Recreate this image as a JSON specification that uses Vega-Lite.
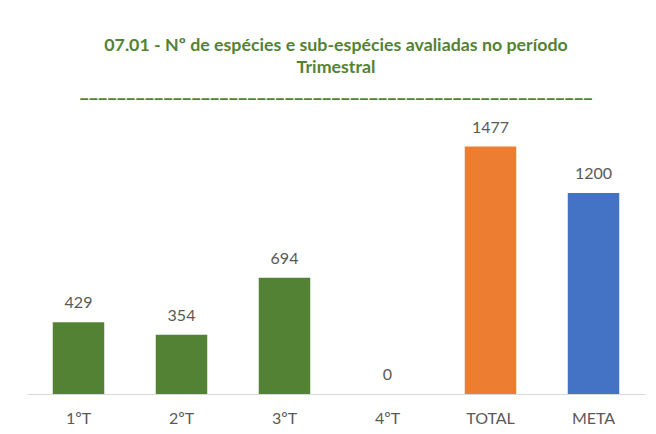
{
  "$schema": "https://vega.github.io/schema/vega-lite/v6.json",
  "autosize": "none",
  "width": 618,
  "height": 268,
  "padding": {"left": 27, "top": 126, "right": 11, "bottom": 40},
  "background": "white",
  "title": {
    "text": ["07.01 - Nº de espécies e sub-espécies avaliadas no período", "Trimestral"],
    "subtitle": "_______________________________________________________",
    "anchor": "middle",
    "font": "Lato",
    "fontSize": 17.8,
    "fontWeight": "bold",
    "color": "#548235",
    "lineHeight": 22,
    "subtitleFont": "Lato",
    "subtitleFontSize": 20,
    "subtitleFontWeight": "bold",
    "subtitleColor": "#548235",
    "subtitlePadding": 4,
    "offset": 19
  },
  "data": {
    "values": [
      {"periodo": "1ºT", "valor": 429, "tipo": "Trimestre"},
      {"periodo": "2ºT", "valor": 354, "tipo": "Trimestre"},
      {"periodo": "3ºT", "valor": 694, "tipo": "Trimestre"},
      {"periodo": "4ºT", "valor": 0, "tipo": "Trimestre"},
      {"periodo": "TOTAL", "valor": 1477, "tipo": "Total"},
      {"periodo": "META", "valor": 1200, "tipo": "Meta"}
    ]
  },
  "encoding": {
    "x": {
      "field": "periodo",
      "type": "nominal",
      "sort": null,
      "scale": {"paddingInner": 0.5, "paddingOuter": 0.25},
      "axis": {
        "title": null,
        "labelAngle": 0,
        "labelFont": "Lato",
        "labelFontSize": 16,
        "labelColor": "#595959",
        "labelPadding": 16,
        "ticks": false,
        "domainColor": "#d9d9d9",
        "domainWidth": 1
      }
    },
    "y": {
      "field": "valor",
      "type": "quantitative",
      "scale": {"domain": [0, 1600]},
      "axis": null
    }
  },
  "layer": [
    {
      "mark": {"type": "bar"},
      "encoding": {
        "color": {
          "field": "tipo",
          "type": "nominal",
          "scale": {"domain": ["Trimestre", "Total", "Meta"], "range": ["#548235", "#ED7D31", "#4472C4"]},
          "legend": null
        }
      }
    },
    {
      "mark": {"type": "text", "dy": -19, "font": "Lato", "fontSize": 16, "color": "#595959"},
      "encoding": {"text": {"field": "valor", "type": "quantitative"}}
    }
  ],
  "config": {"view": {"stroke": null}}
}
